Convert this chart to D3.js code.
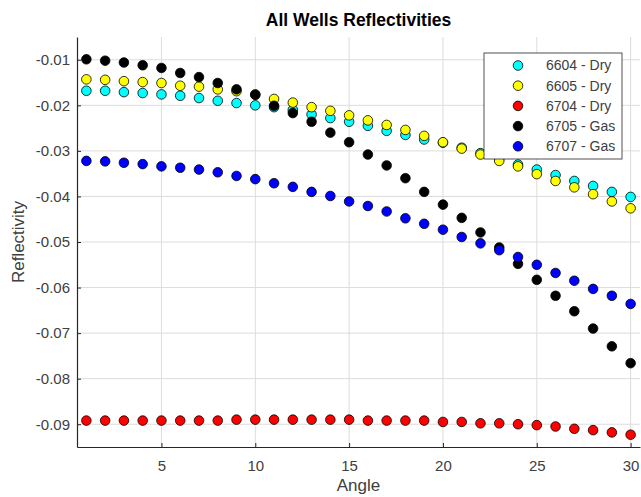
<!DOCTYPE html>
<html>
<head>
<meta charset="utf-8">
<script src="https://cdn.jsdelivr.net/npm/d3@7"></script>
<style>
  html, body { margin: 0; padding: 0; background: #fff; }
  svg { display: block; font-family: "Liberation Sans", Arial, Helvetica, sans-serif; }
</style>
</head>
<body>
<svg id="chart" width="641" height="497"></svg>
<script>
// Incidence angles (degrees)
const angles = d3.range(1, 31);

// Reflectivity per well, one value per angle
const well6604 = [-0.0168, -0.0168, -0.0171, -0.0173, -0.0176, -0.0179, -0.0184, -0.0190, -0.0195, -0.0200,
                  -0.0204, -0.0210, -0.0220, -0.0228, -0.0236, -0.0245, -0.0256, -0.0265, -0.0275, -0.0282,
                  -0.0293, -0.0305, -0.0317, -0.0330, -0.0341, -0.0353, -0.0366, -0.0377, -0.0390, -0.0401];
const well6605 = [-0.0143, -0.0144, -0.0147, -0.0149, -0.0151, -0.0157, -0.0159, -0.0165, -0.0169, -0.0176,
                  -0.0186, -0.0194, -0.0204, -0.0212, -0.0222, -0.0233, -0.0243, -0.0254, -0.0267, -0.0281,
                  -0.0295, -0.0308, -0.0322, -0.0334, -0.0351, -0.0366, -0.0380, -0.0395, -0.0411, -0.0426];
const well6704 = [-0.0892, -0.0892, -0.0892, -0.0892, -0.0892, -0.0892, -0.0892, -0.0892, -0.0890, -0.0890,
                  -0.0890, -0.0890, -0.0890, -0.0890, -0.0890, -0.0892, -0.0892, -0.0892, -0.0892, -0.0895,
                  -0.0895, -0.0898, -0.0898, -0.0900, -0.0902, -0.0905, -0.0910, -0.0913, -0.0918, -0.0923];
const well6705 = [-0.0099, -0.0102, -0.0106, -0.0112, -0.0118, -0.0129, -0.0138, -0.0151, -0.0165, -0.0177,
                  -0.0201, -0.0217, -0.0236, -0.0260, -0.0281, -0.0308, -0.0332, -0.0360, -0.0390, -0.0418,
                  -0.0447, -0.0479, -0.0512, -0.0548, -0.0583, -0.0618, -0.0652, -0.0690, -0.0729, -0.0766];
const well6707 = [-0.0322, -0.0323, -0.0326, -0.0329, -0.0334, -0.0337, -0.0341, -0.0347, -0.0355, -0.0362,
                  -0.0371, -0.0379, -0.0390, -0.0399, -0.0411, -0.0421, -0.0433, -0.0448, -0.0460, -0.0473,
                  -0.0489, -0.0503, -0.0518, -0.0533, -0.0550, -0.0568, -0.0585, -0.0603, -0.0618, -0.0636];

const seriesNames = ["6604 - Dry", "6605 - Dry", "6704 - Dry", "6705 - Gas", "6707 - Gas"];
const seriesValues = [well6604, well6605, well6704, well6705, well6707];
const seriesColors = ["#00ffff", "#ffff00", "#ff0000", "#000000", "#0000ff"];

const xTicks = [5, 10, 15, 20, 25, 30];
const yTicks = [-0.09, -0.08, -0.07, -0.06, -0.05, -0.04, -0.03, -0.02, -0.01];

const svg = d3.select("#chart");
const plot = { left: 77, right: 640, top: 37, bottom: 447 };
const axisColor = "#262626";
const textColor = "#404040";

const x = d3.scaleLinear().domain([0.5, 30.5]).range([plot.left, plot.right]);
const y = d3.scaleLinear().domain([-0.095, -0.005]).range([plot.bottom, plot.top]);

// Grid
const grid = svg.append("g");
grid.selectAll("line.gx").data(xTicks).join("line")
  .attr("x1", d => x(d)).attr("x2", d => x(d))
  .attr("y1", plot.top).attr("y2", plot.bottom)
  .attr("stroke", "#dcdcdc").attr("stroke-width", 1);
grid.selectAll("line.gy").data(yTicks).join("line")
  .attr("x1", plot.left).attr("x2", plot.right)
  .attr("y1", d => y(d)).attr("y2", d => y(d))
  .attr("stroke", "#dcdcdc").attr("stroke-width", 1);

// Axes (ticks pointing inward)
const xAxis = svg.append("g")
  .attr("transform", `translate(0,${plot.bottom})`)
  .call(d3.axisBottom(x).tickValues(xTicks).tickSizeInner(-4).tickSizeOuter(0).tickPadding(13));
const yAxis = svg.append("g")
  .attr("transform", `translate(${plot.left},0)`)
  .call(d3.axisLeft(y).tickValues(yTicks).tickSizeInner(-4).tickSizeOuter(0).tickPadding(7)
        .tickFormat(d3.format(".2f")));
[xAxis, yAxis].forEach(g => {
  g.select(".domain").attr("stroke", axisColor).attr("stroke-width", 1.2);
  g.selectAll(".tick line").attr("stroke", axisColor);
  g.selectAll(".tick text").attr("fill", textColor)
    .style("font-size", "15px").style("font-family", "'Liberation Sans', Arial, sans-serif");
});
yAxis.selectAll(".tick text").text(d => d3.format(".2f")(d).replace("−", "-"));

// Markers
const markers = svg.append("g");
seriesValues.forEach((vals, si) => {
  markers.append("g").selectAll("circle")
    .data(angles.map((a, i) => ({ a, v: vals[i] })))
    .join("circle")
    .attr("cx", d => x(d.a))
    .attr("cy", d => y(d.v))
    .attr("r", 4.8)
    .attr("fill", seriesColors[si])
    .attr("stroke", "#000")
    .attr("stroke-width", 0.8);
});

// Title and axis labels
svg.append("text")
  .attr("x", (plot.left + plot.right) / 2).attr("y", 26)
  .attr("text-anchor", "middle")
  .style("font-size", "17.5px").style("font-weight", "bold")
  .attr("fill", "#000")
  .text("All Wells Reflectivities");
svg.append("text")
  .attr("x", (plot.left + plot.right) / 2).attr("y", 491)
  .attr("text-anchor", "middle")
  .style("font-size", "17px")
  .attr("fill", textColor)
  .text("Angle");
svg.append("text")
  .attr("transform", `translate(24,${(plot.top + plot.bottom) / 2}) rotate(-90)`)
  .attr("text-anchor", "middle")
  .style("font-size", "17px")
  .attr("fill", textColor)
  .text("Reflectivity");

// Legend
const legend = svg.append("g").attr("transform", "translate(484,53)");
legend.append("rect")
  .attr("width", 138).attr("height", 106)
  .attr("fill", "#fff").attr("stroke", axisColor).attr("stroke-width", 0.8);
const rows = legend.selectAll("g.row").data(seriesNames).join("g")
  .attr("transform", (d, i) => `translate(0,${12.5 + i * 20.2})`);
rows.append("circle")
  .attr("cx", 34).attr("r", 4.8)
  .attr("fill", (d, i) => seriesColors[i])
  .attr("stroke", "#000").attr("stroke-width", 0.8);
rows.append("text")
  .attr("x", 62).attr("dy", "0.35em")
  .style("font-size", "14px")
  .attr("fill", textColor)
  .text(d => d);
</script>
</body>
</html>
